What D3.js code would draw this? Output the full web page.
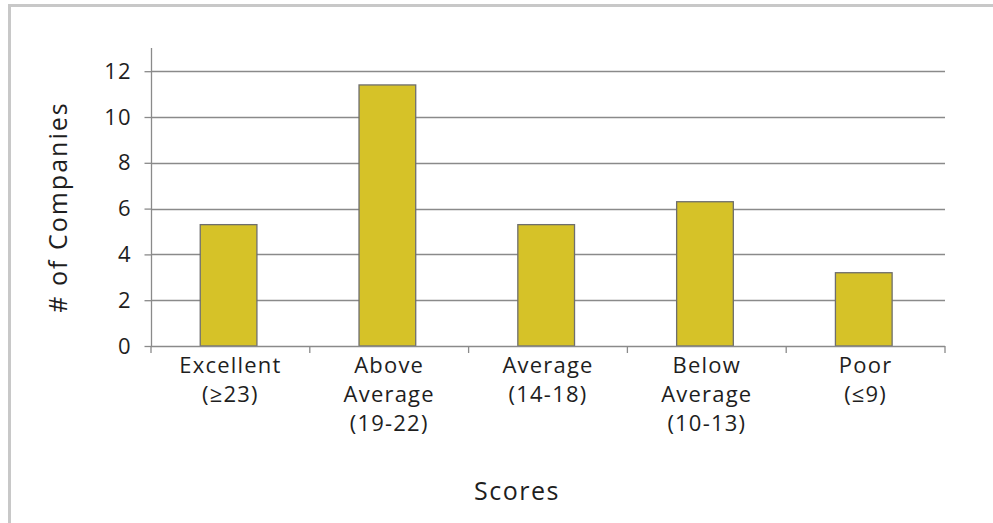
<!DOCTYPE html>
<html>
<head>
<meta charset="utf-8">
<script src="https://cdn.jsdelivr.net/npm/d3@7"></script>
<style>
    body { margin: 0; background: #fff; }
    svg text { font-family: "Open Sans", "Noto Sans", sans-serif; fill: #1e1e1e; }
</style>
</head>
<body>
<div id="chart"></div>
<script>
const categories = [
    ["Excellent", "(\u226523)"],
    ["Above", "Average", "(19-22)"],
    ["Average", "(14-18)"],
    ["Below", "Average", "(10-13)"],
    ["Poor", "(\u22649)"]
];
const counts = [5.3, 11.4, 5.3, 6.3, 3.2];
const yTicks = [0, 2, 4, 6, 8, 10, 12];

const width = 993, height = 523;
const plot = { left: 151, right: 945, top: 48, bottom: 346 };

const svg = d3.select("#chart")
    .append("svg")
    .attr("width", width)
    .attr("height", height);

// outer frame (only top and left show in the picture)
svg.append("path")
    .attr("d", "M9.5," + height + " V5.5 H" + width)
    .attr("fill", "none")
    .attr("stroke", "#c8c8c8")
    .attr("stroke-width", 3);

// one band per category, bar drawn in the middle third of it
const x = d3.scaleBand()
    .domain(d3.range(categories.length))
    .range([plot.left, plot.right]);
const barOffset = x.bandwidth() * 0.31,
    barWidth = x.bandwidth() * 0.357;

const y = d3.scaleLinear()
    .domain([0, 13])
    .range([plot.bottom, plot.bottom - 13 * 22.9]);

// grid lines
svg.append("g")
    .selectAll("line")
    .data(yTicks.slice(1))
    .join("line")
    .attr("x1", plot.left)
    .attr("x2", plot.right)
    .attr("y1", d => Math.round(y(d)) + 0.5)
    .attr("y2", d => Math.round(y(d)) + 0.5)
    .attr("stroke", "#8a8a8a")
    .attr("stroke-width", 1.3);

// bars
svg.append("g")
    .selectAll("rect")
    .data(counts)
    .join("rect")
    .attr("x", (d, i) => x(i) + barOffset)
    .attr("y", d => y(d))
    .attr("width", barWidth)
    .attr("height", d => y(0) - y(d))
    .attr("fill", "#d6c228")
    .attr("stroke", "#6e6e6e")
    .attr("stroke-width", 1.3);

// y axis
const yAxis = d3.axisLeft(y)
    .tickValues(yTicks)
    .tickSize(7)
    .tickPadding(13);
const gy = svg.append("g")
    .attr("transform", "translate(" + (plot.left + 0.5) + ",0)")
    .call(yAxis);
gy.select(".domain").attr("d", "M0," + plot.top + " V" + plot.bottom);
gy.selectAll("line, path").attr("stroke", "#8a8a8a").attr("stroke-width", 1.3);
gy.selectAll("text")
    .attr("font-size", 22)
    .attr("letter-spacing", 1)
    .style("font-family", "\"Open Sans\", sans-serif")
    .attr("fill", "#1e1e1e");

// x axis line with category boundary ticks
svg.append("line")
    .attr("x1", plot.left).attr("x2", plot.right)
    .attr("y1", plot.bottom + 0.5).attr("y2", plot.bottom + 0.5)
    .attr("stroke", "#8a8a8a").attr("stroke-width", 1.3);
const step = x.step();
svg.append("g")
    .selectAll("line")
    .data(d3.range(categories.length + 1))
    .join("line")
    .attr("x1", i => plot.left + i * step)
    .attr("x2", i => plot.left + i * step)
    .attr("y1", plot.bottom)
    .attr("y2", plot.bottom + 7)
    .attr("stroke", "#8a8a8a")
    .attr("stroke-width", 1.3);

// category labels
const labels = svg.append("g")
    .selectAll("text")
    .data(categories)
    .join("text")
    .attr("text-anchor", "middle")
    .attr("font-size", 22)
    .attr("letter-spacing", 1.2)
    .attr("x", (d, i) => x(i) + x.bandwidth() / 2)
    .attr("y", 373);
labels.selectAll("tspan")
    .data(d => d)
    .join("tspan")
    .attr("x", function () { return this.parentNode.getAttribute("x"); })
    .attr("dy", (d, i) => i === 0 ? 0 : 29)
    .text(d => d);

// axis titles
svg.append("text")
    .attr("x", 517)
    .attr("y", 500)
    .attr("text-anchor", "middle")
    .attr("font-size", 25)
    .attr("letter-spacing", 1.5)
    .text("Scores");

svg.append("text")
    .attr("transform", "translate(67,207) rotate(-90)")
    .attr("text-anchor", "middle")
    .attr("font-size", 25)
    .attr("letter-spacing", 2)
    .text("# of Companies");
</script>
</body>
</html>
